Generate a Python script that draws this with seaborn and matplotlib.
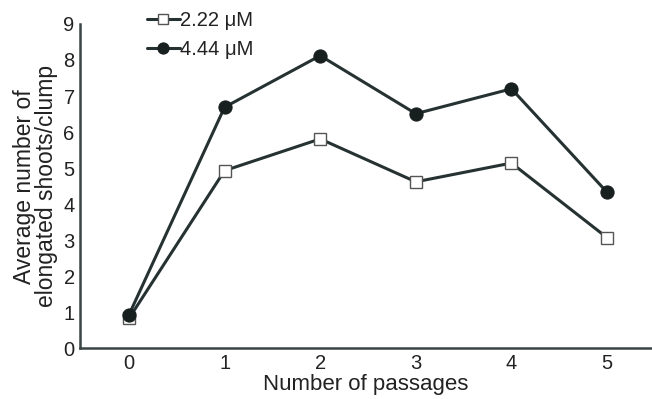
import numpy as np
import pandas as pd
import matplotlib
matplotlib.use("Agg")
import matplotlib.pyplot as plt
import seaborn as sns

passages = [0, 1, 2, 3, 4, 5]
low_conc = [0.83, 4.93, 5.81, 4.62, 5.14, 3.07]    # 2.22 uM
high_conc = [0.93, 6.69, 8.12, 6.51, 7.20, 4.33]   # 4.44 uM
series_names = ["2.22 \u03bcM", "4.44 \u03bcM"]

df = pd.DataFrame({
    "passage": passages * 2,
    "value": low_conc + high_conc,
    "conc": [series_names[0]] * len(passages) + [series_names[1]] * len(passages),
})

sns.set_style("white")
plt.rcParams["font.family"] = ["Liberation Sans", "DejaVu Sans"]

dark = "#263232"
fig = plt.figure(figsize=(6.52, 3.99), dpi=100)
ax = fig.add_axes([0.123, 0.127, 0.877, 0.813])

# open squares
sns.lineplot(data=df[df["conc"] == series_names[0]], x="passage", y="value",
             ax=ax, color=dark, lw=2.2, marker="s", markersize=9,
             markerfacecolor="white", markeredgecolor="#555555",
             markeredgewidth=1.0, label=series_names[0])
# filled circles
sns.lineplot(data=df[df["conc"] == series_names[1]], x="passage", y="value",
             ax=ax, color=dark, lw=2.2, marker="o", markersize=9.5,
             markerfacecolor="#18201f", markeredgecolor="#18201f",
             label=series_names[1])

ax.set_xlim(-0.51, 5.47)
ax.set_ylim(0, 9)
ax.set_yticks(range(0, 10))
ax.set_xticks(passages)
ax.set_xticks(np.arange(-0.5, 5.5, 1.0), minor=True)
ax.tick_params(axis="x", which="major", length=0, labelsize=14.5, pad=4, colors="#222222")
ax.tick_params(axis="x", which="minor", length=3, width=1, color="#555555", direction="out")
ax.tick_params(axis="y", which="major", length=4, width=1, color="#555555",
               labelsize=14.5, pad=0, labelcolor="#222222")

for s in ["top", "right"]:
    ax.spines[s].set_visible(False)
for s in ["left", "bottom"]:
    ax.spines[s].set_color("#3a4444")
    ax.spines[s].set_linewidth(1.8)

ax.set_xlabel("Number of passages", fontsize=16, color="#222222", labelpad=1)
ax.set_ylabel("Average number of\nelongated shoots/clump", fontsize=16.5,
              color="#222222", labelpad=4, linespacing=0.93)

leg = ax.legend(loc="upper left", bbox_to_anchor=(0.116, 1.04), frameon=False,
                fontsize=14.5, handlelength=1.65, handletextpad=0.0,
                labelspacing=0.52, markerscale=0.85, borderaxespad=0,
                borderpad=0)
for t in leg.get_texts():
    t.set_color("#222222")

fig.savefig("out.png", dpi=100)
